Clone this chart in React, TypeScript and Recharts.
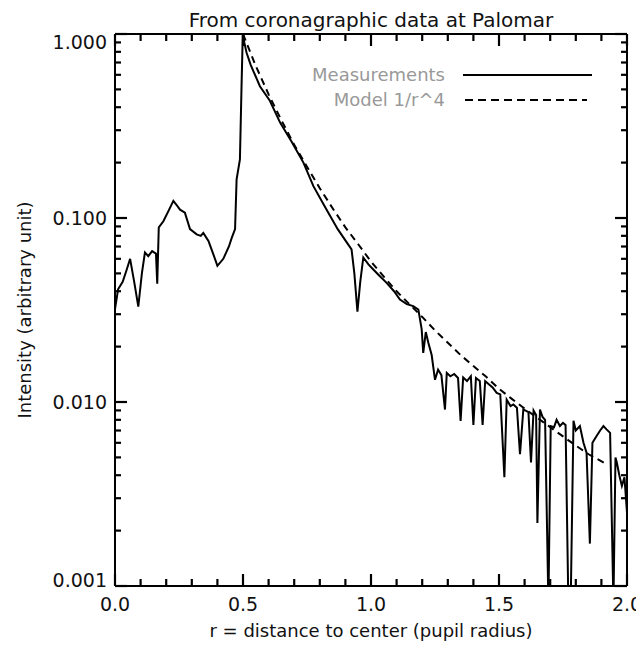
import { LineChart, Line, XAxis, YAxis } from "recharts";

const measR = [
  0.0, 0.012, 0.03, 0.045, 0.059, 0.075, 0.091, 0.105, 0.117, 0.13, 0.145, 0.16, 0.165, 0.171,
  0.189, 0.21, 0.228, 0.24, 0.254, 0.273, 0.293, 0.319, 0.335, 0.345, 0.365, 0.385, 0.4, 0.423,
  0.445, 0.456, 0.469, 0.475, 0.488, 0.494, 0.499, 0.501, 0.505, 0.514, 0.53, 0.566, 0.605,
  0.645, 0.69, 0.736, 0.775, 0.82, 0.87, 0.924, 0.935, 0.947, 0.958, 0.97, 0.99, 1.009, 1.03,
  1.061, 1.09, 1.113, 1.14, 1.165, 1.185, 1.198, 1.204, 1.214, 1.224, 1.237, 1.25, 1.262, 1.275,
  1.289, 1.296, 1.31, 1.325, 1.34, 1.35, 1.36, 1.375, 1.39, 1.4, 1.41, 1.425, 1.436, 1.446, 1.46,
  1.475, 1.491, 1.505, 1.521, 1.53, 1.545, 1.556, 1.57, 1.582, 1.595, 1.602, 1.615, 1.625, 1.635,
  1.645, 1.65, 1.66, 1.67, 1.68, 1.693, 1.702, 1.715, 1.725, 1.738, 1.75, 1.76, 1.771, 1.78,
  1.791, 1.8, 1.816, 1.83, 1.842, 1.855, 1.865, 1.88, 1.895, 1.908, 1.92, 1.934, 1.947, 1.955,
  1.96, 1.97, 1.98, 1.99, 2.0,
];
const measI = [
  0.032, 0.041, 0.045, 0.052, 0.06, 0.045, 0.033, 0.05, 0.065, 0.062, 0.066, 0.064, 0.044, 0.089,
  0.096, 0.11, 0.124, 0.118, 0.111, 0.107, 0.087, 0.0815, 0.08, 0.083, 0.075, 0.063, 0.055, 0.06,
  0.07, 0.078, 0.087, 0.162, 0.208, 0.5, 0.98, 1.0, 0.9, 0.79, 0.68, 0.52, 0.434,
  0.33, 0.26, 0.2, 0.149, 0.115, 0.087, 0.0675, 0.05, 0.031, 0.045, 0.061, 0.056, 0.0525, 0.049,
  0.0444, 0.04, 0.036, 0.034, 0.0332, 0.0318, 0.0248, 0.0185, 0.024, 0.021, 0.018, 0.0132, 0.015, 0.014,
  0.0091, 0.0144, 0.0138, 0.0142, 0.0135, 0.0079, 0.0136, 0.013, 0.0138, 0.0075, 0.0135, 0.013, 0.0075, 0.013, 0.0125,
  0.012, 0.0112, 0.011, 0.0039, 0.0103, 0.0095, 0.0097, 0.0093, 0.0052, 0.0091, 0.009, 0.0088, 0.0047, 0.009,
  0.0085, 0.0022, 0.0091, 0.0083, 0.008, 0.0008, 0.0074, 0.0073, 0.008, 0.0074, 0.0077, 0.0075, 0.0008, 0.0008,
  0.0079, 0.007, 0.0074, 0.006, 0.0053, 0.0017, 0.006, 0.0065, 0.007, 0.0074, 0.0071, 0.0068, 0.0008, 0.005,
  0.0047, 0.004, 0.0035, 0.0039, 0.0025,
];

// 1/r^4 model curve
const modelR = [
  0.5, 0.55, 0.6, 0.65, 0.7, 0.75, 0.8, 0.85, 0.9, 0.95, 1.0, 1.05, 1.1, 1.15, 1.2, 1.25, 1.3,
  1.35, 1.4, 1.45, 1.5, 1.55, 1.6, 1.65, 1.7, 1.75, 1.8, 1.85, 1.92,
];
const modelI = [
  1.0, 0.67, 0.47, 0.34, 0.25, 0.19, 0.145, 0.113, 0.089, 0.072, 0.058, 0.048, 0.04, 0.034, 0.029,
  0.0245, 0.021, 0.018, 0.0157, 0.0137, 0.0118, 0.0104, 0.0092, 0.0082, 0.0073, 0.0065, 0.0058,
  0.0052, 0.0046,
];

const xTicks = [
  0, 0.1, 0.2, 0.3, 0.4, 0.5, 0.6, 0.7, 0.8, 0.9, 1.0, 1.1, 1.2, 1.3, 1.4, 1.5, 1.6, 1.7, 1.8, 1.9, 2.0,
];
const decades = [0.001, 0.01, 0.1];
const yTicks = [...decades.flatMap((d) => [1, 2, 3, 4, 5, 6, 7, 8, 9].map((m) => +(d * m).toPrecision(3))), 1];

const measData = measR.map((r, i) => ({ r, v: measI[i] }));
const modelData = modelR.map((r, i) => ({ r, v: modelI[i] }));

const FONT = "DejaVu Sans";
const W = 636;
const H = 642;
const TICK = "#000";
const isMajorX = (v: number) => Math.abs(v * 2 - Math.round(v * 2)) < 1e-6;
const isMajorY = (v: number) => Math.abs(Math.log10(v) - Math.round(Math.log10(v))) < 1e-6;

// IDL-style ticks: every tick points into the plot box
const BottomTick = (props: any) => {
  const v = props.payload.value;
  const len = isMajorX(v) ? 12 : 7;
  return (
    <g>
      <line x1={props.x} x2={props.x} y1={props.y} y2={Number(props.y) - len} stroke={TICK} strokeWidth={2.2} />
      {isMajorX(v) && (
        <text x={props.x} y={Number(props.y) + 25} textAnchor="middle" fontSize={19} fontFamily={FONT} fill="#111">
          {v.toFixed(1)}
        </text>
      )}
    </g>
  );
};

const TopTick = (props: any) => {
  const len = isMajorX(props.payload.value) ? 12 : 7;
  return <line x1={props.x} x2={props.x} y1={props.y} y2={Number(props.y) + len} stroke={TICK} strokeWidth={2.2} />;
};

const LeftTick = (props: any) => {
  const v = props.payload.value;
  const len = isMajorY(v) ? 12 : 6;
  const shift = v === 1 ? 8 : v === 0.001 ? -6 : 0;
  return (
    <g>
      <line x1={props.x} x2={Number(props.x) + len} y1={props.y} y2={props.y} stroke={TICK} strokeWidth={2.2} />
      {isMajorY(v) && (
        <text x={Number(props.x) - 8} y={Number(props.y) + shift + 7} textAnchor="end" fontSize={19} fontFamily={FONT} fill="#111">
          {v.toFixed(3)}
        </text>
      )}
    </g>
  );
};

const RightTick = (props: any) => {
  const len = isMajorY(props.payload.value) ? 12 : 6;
  return <line x1={props.x} x2={Number(props.x) - len} y1={props.y} y2={props.y} stroke={TICK} strokeWidth={2.2} />;
};

const axisLine = { stroke: "#000", strokeWidth: 2 };

export default function App() {
  return (
    <div style={{ position: "relative", width: W, height: H, fontFamily: FONT }}>
      <LineChart width={W} height={H} margin={{ top: 24, right: 15, bottom: 0, left: 47 }}>
        <XAxis
          xAxisId="b"
          dataKey="r"
          type="number"
          domain={[0, 2]}
          ticks={xTicks}
          interval={0}
          tickSize={0}
          tickMargin={0}
          tick={BottomTick}
          axisLine={axisLine}
          height={64}
          label={{ value: "r = distance to center (pupil radius)", position: "center", dy: 13, fontSize: 18, fontFamily: FONT, fill: "#111" }}
        />
        <XAxis
          xAxisId="t"
          orientation="top"
          dataKey="r"
          type="number"
          domain={[0, 2]}
          ticks={xTicks}
          interval={0}
          tickSize={0}
          tickMargin={0}
          tick={TopTick}
          axisLine={axisLine}
          height={2}
        />
        <YAxis
          yAxisId="l"
          dataKey="v"
          scale="log"
          type="number"
          domain={[0.001, 1]}
          ticks={yTicks}
          interval={0}
          allowDataOverflow
          tickSize={0}
          tickMargin={0}
          tick={LeftTick}
          axisLine={axisLine}
          width={60}
          label={{ value: "Intensity (arbitrary unit)", angle: -90, position: "center", dx: -60, fontSize: 18, fontFamily: FONT, fill: "#111" }}
        />
        <YAxis
          yAxisId="r"
          orientation="right"
          dataKey="v"
          scale="log"
          type="number"
          domain={[0.001, 1]}
          ticks={yTicks}
          interval={0}
          allowDataOverflow
          tickSize={0}
          tickMargin={0}
          tick={RightTick}
          axisLine={axisLine}
          width={2}
        />
        <Line xAxisId="b" yAxisId="l" data={measData} dataKey="v" type="linear" stroke="#000" strokeWidth={2} dot={false} isAnimationActive={false} />
        <Line xAxisId="b" yAxisId="l" data={modelData} dataKey="v" type="linear" stroke="#000" strokeWidth={2} strokeDasharray="7 5" dot={false} isAnimationActive={false} />
        <Line xAxisId="t" yAxisId="r" data={modelData} dataKey="v" stroke="none" dot={false} legendType="none" isAnimationActive={false} />
      </LineChart>
      <div style={{ position: "absolute", left: 107, width: 512, top: 0, textAlign: "center", fontSize: 20, color: "#111", lineHeight: "24px" }}>
        From coronagraphic data at Palomar
      </div>
      <div style={{ position: "absolute", top: 56, left: 250, width: 187, textAlign: "right", whiteSpace: "nowrap", lineHeight: "22px", fontSize: 18, color: "#999" }}>
        Measurements
      </div>
      <div style={{ position: "absolute", top: 81, left: 250, width: 187, textAlign: "right", whiteSpace: "nowrap", lineHeight: "22px", fontSize: 18, color: "#999" }}>
        Model 1/r^4
      </div>
      <svg style={{ position: "absolute", left: 455, top: 56 }} width={135} height={50}>
        <line x1={0} x2={129} y1={11} y2={11} stroke="#000" strokeWidth={2} />
        <line x1={2} x2={124} y1={36} y2={36} stroke="#000" strokeWidth={2} strokeDasharray="8 5" />
      </svg>
    </div>
  );
}
